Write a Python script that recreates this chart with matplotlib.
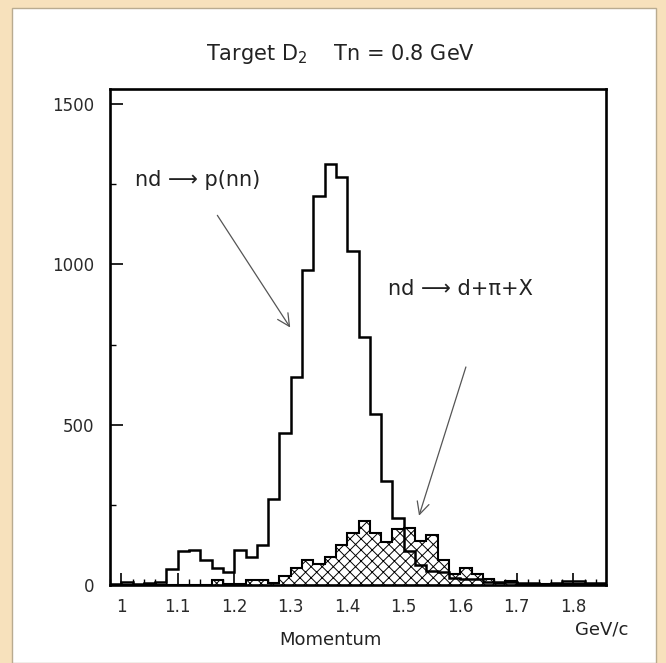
import numpy as np
import matplotlib.pyplot as plt
from matplotlib.patches import Rectangle
from matplotlib.ticker import MultipleLocator

# histogram bins: 0.98 .. 1.86 GeV/c, width 0.02
edges = np.round(np.arange(0.98, 1.8601, 0.02), 2)

# nd -> p(nn), open histogram
counts_total = [3, 8, 4, 6, 9, 49, 106, 109, 78, 54, 42,
                108, 87, 125, 268, 473, 648, 981, 1212, 1312, 1273,
                1042, 775, 532, 325, 208, 105, 62, 45, 40, 22,
                18, 20, 10, 8, 10, 6, 5, 4, 7, 12, 14, 6, 5]

# nd -> d + pi + X, hatched histogram
counts_dpi = [0, 0, 0, 0, 0, 0, 0, 0, 0, 15, 3,
              2, 15, 15, 5, 28, 52, 77, 65, 87, 125,
              163, 199, 163, 135, 174, 178, 138, 157, 77, 35,
              54, 33, 18, 7, 12, 4, 3, 3, 2, 3, 3, 4, 2]

fig = plt.figure(figsize=(6.66, 6.63), dpi=100)
fig.patch.set_facecolor('#f7e1bc')
fig.patches.append(Rectangle((12/666, 0), 644/666, 655/663,
                             transform=fig.transFigure, facecolor='white',
                             edgecolor='#b9ab90', lw=1.0, zorder=-1))

ax = fig.add_axes([110/666, 78/663, 496/666, 496/663])
ax.set_zorder(1)

plt.rcParams['hatch.linewidth'] = 0.7
ax.stairs(counts_dpi, edges, fill=True, hatch='xxx',
          facecolor='white', edgecolor='black', lw=0, zorder=2)
ax.stairs(counts_total, edges, color='black', lw=1.8, zorder=3)
ax.stairs(counts_dpi, edges, color='black', lw=1.5, zorder=4)

ax.set_xlim(0.98, 1.858)
ax.set_ylim(0, 1547)

ax.xaxis.set_minor_locator(MultipleLocator(0.02))
ax.yaxis.set_major_locator(MultipleLocator(500))
ax.yaxis.set_minor_locator(MultipleLocator(250))
ax.set_xticks(np.round(np.arange(1.0, 1.81, 0.1), 1))
ax.set_xticklabels(['1', '1.1', '1.2', '1.3', '1.4', '1.5', '1.6', '1.7', '1.8'])
ax.tick_params(which='major', direction='in', length=9, width=1.2,
               labelsize=12, pad=9, colors='black', labelcolor='#2a2a2a')
ax.tick_params(which='minor', direction='in', length=4.5, width=1.0)
ax.tick_params(axis='y', pad=11)
for s in ax.spines.values():
    s.set_linewidth(1.9)

txt = '#222222'
fig.text(340/666, 1 - 54/663, 'Target D$_2$    Tn = 0.8 GeV',
         ha='center', va='center', fontsize=15, color=txt)
fig.text(330/666, 1 - 640/663, 'Momentum', ha='center', va='center',
         fontsize=13, color=txt)
fig.text(602/666, 1 - 630/663, 'GeV/c', ha='center', va='center',
         fontsize=13, color=txt)

ax.text(1.025, 1262, 'nd ⟶ p(nn)', ha='left', va='center',
        fontsize=15, color=txt)
ax.text(1.4726, 922, 'nd ⟶ d+π+X', ha='left', va='center',
        fontsize=15, color=txt)

arrow = dict(arrowstyle='->', color='#555555', lw=0.9, mutation_scale=22,
             shrinkA=0, shrinkB=0)
ax.annotate('', xy=(1.299, 803), xytext=(1.170, 1153), arrowprops=arrow)
ax.annotate('', xy=(1.527, 216), xytext=(1.61, 680), arrowprops=arrow)

plt.savefig('out.png', dpi=100, facecolor=fig.get_facecolor())
